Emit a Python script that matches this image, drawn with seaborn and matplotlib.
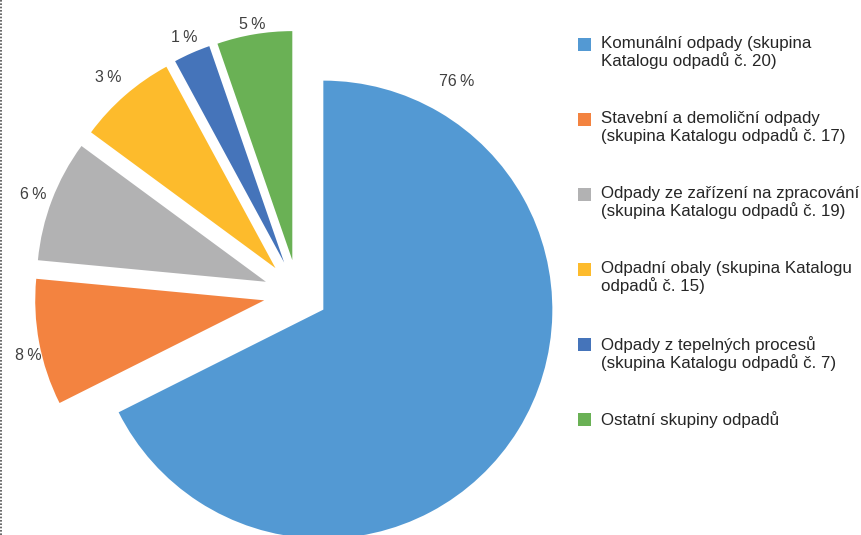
import matplotlib
matplotlib.use("Agg")
import matplotlib.pyplot as plt
from matplotlib.patches import Rectangle
from matplotlib.lines import Line2D
import seaborn as sns

# ---- data ----
categories = [
    "Komunální odpady (skupina\nKatalogu odpadů č. 20)",
    "Stavební a demoliční odpady\n(skupina Katalogu odpadů č. 17)",
    "Odpady ze zařízení na zpracování\n(skupina Katalogu odpadů č. 19)",
    "Odpadní obaly (skupina Katalogu\nodpadů č. 15)",
    "Odpady z tepelných procesů\n(skupina Katalogu odpadů č. 7)",
    "Ostatní skupiny odpadů",
]
slice_values = [67.6, 8.9, 8.6, 7.0, 2.6, 5.3]
pct_labels = ["76\u2009%", "8\u2009%", "6\u2009%", "3\u2009%", "1\u2009%", "5\u2009%"]
colors = ["#5399D3", "#F38340", "#B2B2B3", "#FDBB2C", "#4574BA", "#6AB155"]

sns.set_theme(style="white")
plt.rcParams["font.family"] = ["Liberation Sans", "DejaVu Sans"]

W, H = 862, 535
fig = plt.figure(figsize=(W / 100, H / 100), dpi=100)
fig.patch.set_facecolor("white")

# pie center at (298, 294) px from top-left, radius 229 px
cx, cy, R = 298, 294, 229
ax = fig.add_axes([0, 0, 2 * cx / W, 1])
explode = [0.13, 0.15, 0.15, 0.15, 0.15, 0.15]
pctdist = 1.09
label_dist = [None, 1.06, 1.087, 1.11, 1.082, 1.052]

lab_iter = iter(pct_labels)
wedges, _, autotexts = ax.pie(
    slice_values,
    colors=colors,
    explode=explode,
    startangle=90,
    counterclock=False,
    autopct=lambda p: next(lab_iter),
    pctdistance=pctdist,
    wedgeprops=dict(linewidth=0),
    textprops=dict(color="#404040", fontsize=11.5),
)
ax.set_xlim(-cx / R, cx / R)
ax.set_ylim(-(H - cy) / R, cy / R)
ax.set_aspect("equal")
ax.axis("off")

# fine-tune radial distance of the small-slice labels
for t, e, d in zip(autotexts, explode, label_dist):
    t.set_verticalalignment("center_baseline")
    if d is None:
        continue
    x, y = t.get_position()
    s = (e + d) / (e + pctdist)
    t.set_position((x * s, y * s))

# labels that Excel placed off the bisector
autotexts[0].set_position((0.694, 0.934))
autotexts[1].set_position((-1.179, -0.262))

# ---- legend (manual, handles aligned with first line) ----
top0, step = 37.5, 75.0
for i, (lab, col) in enumerate(zip(categories, colors)):
    ytop = top0 + i * step
    fig.patches.append(Rectangle((578 / W, 1 - (ytop + 13.5) / H), 13 / W, 13 / H,
                                 transform=fig.transFigure, facecolor=col,
                                 edgecolor="none", figure=fig))
    fig.text(601 / W, 1 - (ytop - 1.5) / H, lab, ha="left", va="top",
             fontsize=12.2, color="#262626", linespacing=1.1)

# dotted left border
fig.add_artist(Line2D([1.5 / W, 1.5 / W], [0, 1], transform=fig.transFigure,
                      color="#505050", linestyle=(0, (1, 1)), linewidth=1.2))

fig.savefig("out.png", dpi=100, facecolor="white")
